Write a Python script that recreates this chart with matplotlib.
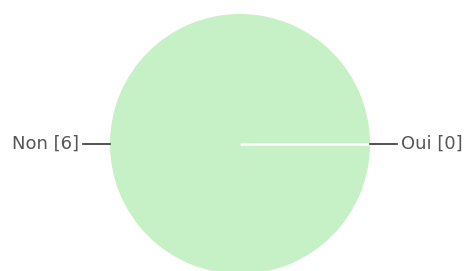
import matplotlib
matplotlib.use("Agg")
import matplotlib.pyplot as plt
import numpy as np

labels = ["Oui", "Non"]
values = [0, 6]
colors = ["#c6f0c6", "#c6f0c6"]

W, H = 471, 271
fig = plt.figure(figsize=(W / 100, H / 100), dpi=100)
cx, cy, r = 240, 144, 130
ax = fig.add_axes([(cx - r) / W, (H - cy - r) / H, 2 * r / W, 2 * r / H])

wedges, _ = ax.pie(values, colors=colors, startangle=0, counterclock=True,
                   wedgeprops=dict(edgecolor="none"))
ax.set_xlim(-1, 1)
ax.set_ylim(-1, 1)
ax.set_aspect("equal")
ax.axis("off")

for w, lab, v in zip(wedges, labels, values):
    if v == 0:
        a = np.deg2rad(w.theta1)
        ax.plot([0, np.cos(a)], [0, np.sin(a)], color="white", lw=1.8,
                solid_capstyle="butt")
    mid = np.deg2rad((w.theta1 + w.theta2) / 2)
    x0, y0 = np.cos(mid), np.sin(mid)
    x1, y1 = 1.21 * x0, 1.21 * y0
    ax.plot([x0, x1], [y0, y1], color="#333333", lw=1.2, clip_on=False)
    ha = "left" if x0 >= 0 else "right"
    xt = x1 + (0.03 if x0 >= 0 else -0.03)
    ax.text(xt, y1, f"{lab} [{v}]", ha=ha, va="center", fontsize=13,
            color="#555555", family="DejaVu Sans", clip_on=False)

fig.savefig("out.png", dpi=100)
